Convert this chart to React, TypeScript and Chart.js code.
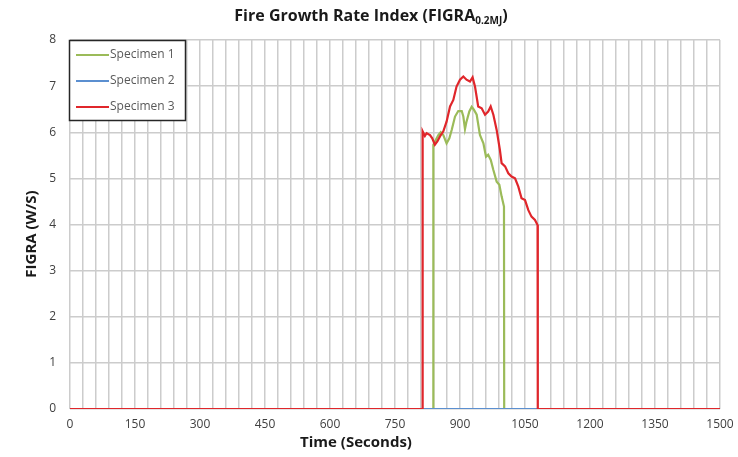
import React, { useEffect, useRef } from "react";
import { Chart, registerables } from "chart.js";

Chart.register(...registerables);

const seriesNames = ["Specimen 1", "Specimen 2", "Specimen 3"];

const spec1Time = [0, 838, 838.5, 844.6, 850, 855.4, 861.5, 869, 875.4, 880.8, 888.5, 896, 904, 907.7, 911.5, 915, 921.5, 927, 932, 938.5, 946, 954, 960, 965, 971, 977, 984.6, 990.8, 996, 1001.5, 1002, 1500];
const spec1Value = [0, 0, 5.73, 5.84, 5.94, 6.0, 5.94, 5.76, 5.87, 6.05, 6.34, 6.46, 6.46, 6.34, 6.07, 6.23, 6.45, 6.55, 6.49, 6.38, 5.94, 5.76, 5.47, 5.51, 5.4, 5.18, 4.93, 4.86, 4.61, 4.39, 0, 0];

const spec2Time = [0, 1500];
const spec2Value = [0, 0];

const spec3Time = [0, 813.5, 813.8, 819, 823, 830.8, 836, 842, 847.7, 853.8, 861.5, 869, 877, 884.6, 892, 900, 907.7, 915, 923, 929, 934.6, 942, 950, 957.7, 965, 970.8, 977, 984.6, 992, 996, 1004, 1011.5, 1019, 1027, 1034.6, 1042, 1050, 1057.7, 1065, 1073, 1079, 1079.5, 1500];
const spec3Value = [0, 0, 6.02, 5.92, 5.98, 5.94, 5.87, 5.73, 5.8, 5.91, 6.02, 6.23, 6.56, 6.7, 6.99, 7.14, 7.21, 7.14, 7.1, 7.19, 6.99, 6.56, 6.52, 6.38, 6.45, 6.56, 6.38, 6.05, 5.62, 5.33, 5.26, 5.11, 5.04, 5.0, 4.82, 4.57, 4.53, 4.31, 4.17, 4.1, 3.99, 0, 0];

const xMin = 0;
const xMax = 1500;
const xGridStep = 30;
const xLabelStep = 150;
const yMin = 0;
const yMax = 8;
const yStep = 1;

const titleMain = "Fire Growth Rate Index (FIGRA";
const titleSub = "0.2MJ";
const titleEnd = ")";
const xTitle = "Time (Seconds)";
const yTitle = "FIGRA (W/S)";

const colors = ["#9BBB59", "#5B8FD0", "#E0262B"];

function toPoints(t: number[], v: number[]) {
  return t.map((x, i) => ({ x, y: v[i] }));
}

const FONT = "'Open Sans', 'Noto Sans', sans-serif";
const TEXT_DARK = "#1a1a1a";

const textPlugin = {
  id: "figraTexts",
  afterDraw(chart: any) {
    const ctx = chart.ctx;
    ctx.save();
    const mainFont = `bold 16px ${FONT}`;
    const subFont = `bold 10px ${FONT}`;
    ctx.font = mainFont;
    const w1 = ctx.measureText(titleMain).width;
    const w3 = ctx.measureText(titleEnd).width;
    ctx.font = subFont;
    const w2 = ctx.measureText(titleSub).width;
    const total = w1 + w2 + w3;
    let x = 371 - total / 2;
    const y = 16;
    ctx.fillStyle = TEXT_DARK;
    ctx.textBaseline = "middle";
    ctx.textAlign = "left";
    ctx.font = mainFont;
    ctx.fillText(titleMain, x, y);
    x += w1;
    ctx.font = subFont;
    ctx.fillText(titleSub, x, y + 5);
    x += w2;
    ctx.font = mainFont;
    ctx.fillText(titleEnd, x, y);

    ctx.textAlign = "center";
    ctx.font = `bold 15px ${FONT}`;
    ctx.fillText(xTitle, 356, 443);

    ctx.translate(32, 234);
    ctx.rotate(-Math.PI / 2);
    ctx.font = `bold 15px ${FONT}`;
    ctx.fillText(yTitle, 0, 0);
    ctx.restore();
  },
};

const legendPlugin = {
  id: "legendBox",
  afterDatasetsDraw(c: any) {
    const ctx = c.ctx;
    ctx.save();
    ctx.fillStyle = "#ffffff";
    ctx.fillRect(69, 40, 117, 81);
    ctx.strokeStyle = "#262626";
    ctx.lineWidth = 1.5;
    ctx.strokeRect(69.5, 40.5, 116, 80);
    ctx.font = `12px ${FONT}`;
    ctx.textBaseline = "middle";
    ctx.textAlign = "left";
    const ys = [55, 81, 107];
    for (let i = 0; i < 3; i++) {
      ctx.strokeStyle = colors[i];
      ctx.lineWidth = 2;
      ctx.beginPath();
      ctx.moveTo(76, ys[i]);
      ctx.lineTo(109, ys[i]);
      ctx.stroke();
      ctx.fillStyle = "#595959";
      ctx.fillText(seriesNames[i], 110, ys[i]);
    }
    ctx.restore();
  },
};

export default function App() {
  const ref = useRef<HTMLCanvasElement | null>(null);
  useEffect(() => {
    document.body.style.margin = "0";
    const canvas = ref.current;
    if (!canvas) return;
    const datasets = [
      { label: seriesNames[0], data: toPoints(spec1Time, spec1Value), order: 2 },
      { label: seriesNames[1], data: toPoints(spec2Time, spec2Value), order: 1 },
      { label: seriesNames[2], data: toPoints(spec3Time, spec3Value), order: 0 },
    ].map((d, i) => ({
      ...d,
      borderColor: colors[i],
      backgroundColor: colors[i],
      borderWidth: 2.2,
      pointRadius: 0,
      tension: 0,
      fill: false,
    }));
    const chart = new Chart(canvas, {
      type: "line",
      data: { datasets },
      plugins: [textPlugin, legendPlugin as any],
      options: {
        animation: false,
        responsive: false,
        maintainAspectRatio: false,
        layout: { padding: { top: 40, right: 18, left: 0, bottom: 0 } },
        plugins: {
          legend: { display: false },
          tooltip: { enabled: false },
          title: { display: false },
        },
        scales: {
          x: {
            type: "linear",
            min: xMin,
            max: xMax,
            afterBuildTicks(scale: any) {
              const t = [];
              for (let v = xMin; v <= xMax; v += xGridStep) t.push({ value: v });
              scale.ticks = t;
            },
            afterFit(scale: any) {
              scale.height = 48;
              scale.paddingLeft = 0;
              scale.paddingRight = 0;
            },
            ticks: {
              autoSkip: false,
              maxRotation: 0,
              minRotation: 0,
              padding: 8,
              color: "#404040",
              font: { family: FONT, size: 12 },
              callback: (v: any) => (Number(v) % xLabelStep === 0 ? String(v) : ""),
            },
            grid: { color: "#cccccc", lineWidth: 1.5, drawTicks: false },
            border: { display: false },
          },
          y: {
            min: yMin,
            max: yMax,
            afterFit(scale: any) {
              scale.width = 70;
              scale.paddingTop = 0;
              scale.paddingBottom = 0;
            },
            ticks: {
              stepSize: yStep,
              padding: 14,
              color: "#404040",
              font: { family: FONT, size: 12 },
            },
            grid: { color: "#cccccc", lineWidth: 1.5, drawTicks: false },
            border: { display: false },
          },
        },
      } as any,
    });
    return () => chart.destroy();
  }, []);
  return (
    <div style={{ width: 738, height: 457 }}>
      <canvas ref={ref} width={738} height={457} style={{ display: "block" }} />
    </div>
  );
}
